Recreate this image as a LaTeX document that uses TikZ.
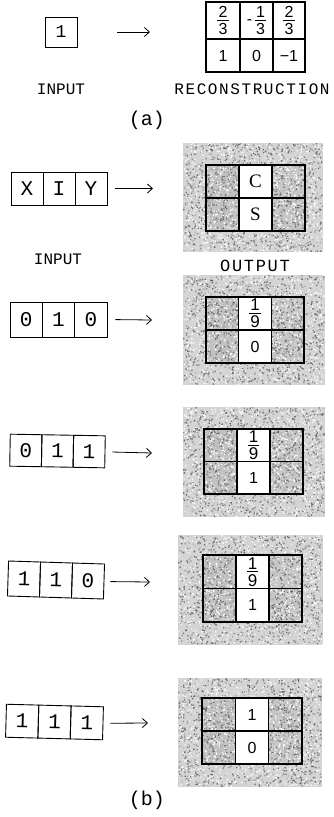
\documentclass[tikz,border=0pt]{standalone}
\usepackage{fontspec}
\setmainfont{Liberation Serif}
\newfontfamily\monof{Liberation Mono}
\newfontfamily\monowide[LetterSpace=10]{Liberation Mono}
\newfontfamily\sansf{Liberation Sans}
\newfontfamily\serf{Liberation Serif}
\usetikzlibrary{arrows.meta}
\newcommand\fsz[1]{\fontsize{#1}{#1}\selectfont}
\newcommand\gfrac[2]{$\vcenter{\hbox{\vbox{\offinterlineskip\halign{\hfil\kern1.2pt##\kern1.2pt\hfil\cr #1\cr\noalign{\kern2.2pt\hrule height 0.7pt\kern2.2pt}#2\cr}}}}$}
% one layer of random specks: x0,y0,x1,y1,count,grey
\newcommand\specks[6]{%
  \fill[black!#6] foreach \i in {1,...,#5}{
    ({(#1)+rnd*((#3)-(#1)-1.3)},{(#2)+rnd*((#4)-(#2)-1.3)}) rectangle ++(1.3,1.3)};%
}
% noisy grey patch: x0,y0,x1,y1,count per layer,base grey
\newcommand\noisebox[6]{%
  \fill[black!#6] (#1,#2) rectangle (#3,#4);
  \specks{#1}{#2}{#3}{#4}{#5}{3}%
  \specks{#1}{#2}{#3}{#4}{#5}{32}%
  \specks{#1}{#2}{#3}{#4}{#5}{45}%
  \specks{#1}{#2}{#3}{#4}{#5}{0}%
  \specks{#1}{#2}{#3}{#4}{#5}{58}%
}
% output grid: name, x0, x3, y0, y2, top text, bottom text
\newcommand\outgrid[7]{%
  \pgfmathsetmacro\cw{(#3-#2)/3}%
  \pgfmathsetmacro\ch{(#5-#4)/2}%
  \noisebox{#2}{#4}{#2+\cw}{#5}{80}{24}%
  \noisebox{#2+2*\cw}{#4}{#3}{#5}{80}{22}%
  \node[gcell, minimum width=\cw*1pt, minimum height=\ch*1pt] (#1-11) at ({#2+0.5*\cw},{#4+0.5*\ch}) {};
  \node[gcell, fill=white, minimum width=\cw*1pt, minimum height=\ch*1pt] (#1-12) at ({#2+1.5*\cw},{#4+0.5*\ch}) {#6};
  \node[gcell, minimum width=\cw*1pt, minimum height=\ch*1pt] (#1-13) at ({#2+2.5*\cw},{#4+0.5*\ch}) {};
  \node[gcell, minimum width=\cw*1pt, minimum height=\ch*1pt] (#1-21) at ({#2+0.5*\cw},{#4+1.5*\ch}) {};
  \node[gcell, fill=white, minimum width=\cw*1pt, minimum height=\ch*1pt] (#1-22) at ({#2+1.5*\cw},{#4+1.5*\ch}) {#7};
  \node[gcell, minimum width=\cw*1pt, minimum height=\ch*1pt] (#1-23) at ({#2+2.5*\cw},{#4+1.5*\ch}) {};
}
% input row: name, x0, x3, yc, height, angle, three texts
\newcommand\inrow[9]{%
  \pgfmathsetmacro\iw{(#3-#2)/3}%
  \begin{scope}[rotate around={#6:({(#2+#3)/2},#4)}, transform shape]
    \node[incell, minimum width=\iw*1pt, minimum height=#5*1pt] (#1-1) at ({#2+0.5*\iw},#4) {#7};
    \node[incell, minimum width=\iw*1pt, minimum height=#5*1pt] (#1-2) at ({#2+1.5*\iw},#4) {#8};
    \node[incell, minimum width=\iw*1pt, minimum height=#5*1pt] (#1-3) at ({#2+2.5*\iw},#4) {#9};
  \end{scope}%
}
\begin{document}
\begin{tikzpicture}[x=1pt,y=-1pt,
  incell/.style={draw, line width=0.9pt, inner sep=0pt, font=\monof\fsz{21}},
  gcell/.style={draw, line width=1.1pt, inner sep=0pt, font=\sansf\fsz{16}},
  lbl/.style={inner sep=0pt, font=\monof\fsz{16}},
  arr/.style={-{Straight Barb[length=5pt,width=9pt]}, line width=0.8pt}]
\useasboundingbox[fill=white] (0,0) rectangle (334,817);
\pgfmathsetseed{7}

% ---------- (a) ----------
\node[incell, minimum width=32pt, minimum height=30pt, font=\monof\fsz{18}] (ain) at (61,32) {1};
\coordinate (ae) at (150,32);
\draw[arr, shorten <=40pt] (ain.east) -- (ae);

\node[gcell, minimum width=34pt, minimum height=37pt, font=\sansf\fsz{16}] (r11) at (223,20.5) {\gfrac{2}{3}};
\node[gcell, minimum width=33pt, minimum height=37pt, font=\sansf\fsz{16}] (r12) at (256.5,20.5) {-\,\gfrac{1}{3}};
\node[gcell, minimum width=32pt, minimum height=37pt, font=\sansf\fsz{16}] (r13) at (289,20.5) {\gfrac{2}{3}};
\node[gcell, minimum width=34pt, minimum height=33pt] (r21) at (223,55.5) {1};
\node[gcell, minimum width=33pt, minimum height=33pt] (r22) at (256.5,55.5) {0};
\node[gcell, minimum width=32pt, minimum height=33pt] (r23) at (289,55.5) {−1};

\node[lbl] (ainl) at (61,89) {INPUT};
\node[lbl, font=\monowide\fsz{16}] (arecl) at (252,89) {RECONSTRUCTION};
\node[lbl, font=\monof\fsz{20}] (alab) at (147,120) {(a)};

% ---------- (b) ----------
% row 1
\noisebox{183}{143}{323}{252}{420}{17}
\outgrid{g1}{206}{305}{165}{231}{\serf\fsz{19}C}{\serf\fsz{19}S}
\inrow{i1}{11}{107}{188.5}{33}{0}{X}{I}{Y}
\coordinate (e1) at (153,188.5);
\draw[arr, shorten <=8pt] (i1-3.east) -- (e1);
\node[lbl] (binl) at (58,259) {INPUT};
\node[lbl, font=\monowide\fsz{17}] (boutl) at (255,266) {OUTPUT};

% row 2
\noisebox{183}{275}{325}{385}{420}{17}
\outgrid{g2}{206}{304}{297}{363}{\fsz{17}\gfrac{1}{9}}{0}
\inrow{i2}{10}{107}{319.5}{35}{0}{0}{1}{0}
\coordinate (e2) at (152,320);
\draw[arr, shorten <=8pt] (i2-3.east) -- (e2);

% row 3
\noisebox{183}{407}{325}{517}{420}{17}
\outgrid{g3}{204}{303}{429}{494}{\fsz{17}\gfrac{1}{9}}{1}
\inrow{i3}{10}{105}{451}{32}{-1}{0}{1}{1}
\coordinate (e3) at (152,453);
\draw[arr, shorten <=7pt] (i3-3.east) -- (e3);

% row 4
\noisebox{178}{535}{323}{645}{420}{17}
\outgrid{g4}{203}{302}{555}{622}{\fsz{17}\gfrac{1}{9}}{1}
\inrow{i4}{8}{104}{580}{35}{-1.8}{1}{1}{0}
\coordinate (e4) at (150,582);
\draw[arr, shorten <=6pt] (i4-3.east) -- (e4);

% row 5
\noisebox{178}{678}{322}{787}{420}{17}
\outgrid{g5}{202}{302}{698}{764}{1}{0}
\inrow{i5}{6}{103}{722}{33}{-1.5}{1}{1}{1}
\coordinate (e5) at (148,723);
\draw[arr, shorten <=7pt] (i5-3.east) -- (e5);

\node[lbl, font=\monof\fsz{20}] (blab) at (147,800) {(b)};
\end{tikzpicture}
\end{document}
